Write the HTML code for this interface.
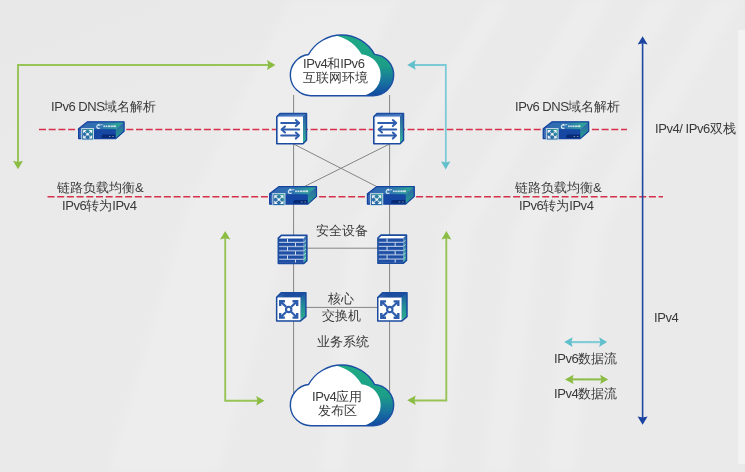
<!DOCTYPE html>
<html><head><meta charset="utf-8">
<style>
html,body{margin:0;padding:0;}
body{width:745px;height:472px;overflow:hidden;position:relative;background:#eaeaea;font-family:"Liberation Sans",sans-serif;color:#3a3a3a;}
.t{position:absolute;white-space:nowrap;will-change:transform;font-size:13px;line-height:16px;}
.l{letter-spacing:-0.45px;}
.k{display:inline-block;width:1em;text-align:center;}
</style></head><body>
<svg width="745" height="472" viewBox="0 0 745 472" style="position:absolute;left:0;top:0">
<defs>
<linearGradient id="gCloud" x1="0" y1="35" x2="0" y2="96" gradientUnits="userSpaceOnUse">
<stop offset="0" stop-color="#1fab84"/><stop offset="0.5" stop-color="#1c9e87"/><stop offset="0.78" stop-color="#1870a0"/><stop offset="1" stop-color="#0f47a0"/></linearGradient>
<clipPath id="clipCloud"><path d="M311.00,95.70 A20.7,20.7 0 0 1 308.62,54.44 A37.7,37.7 0 0 1 374.54,54.36 A20.7,20.7 0 0 1 373.00,95.70 Z"/></clipPath>
<linearGradient id="gTopSw" x1="0" y1="0" x2="1" y2="0"><stop offset="0" stop-color="#3c6cb8"/><stop offset="1" stop-color="#4f80c4"/></linearGradient>
<linearGradient id="gSide" x1="0" y1="0" x2="0" y2="1"><stop offset="0" stop-color="#2d5ca8"/><stop offset="1" stop-color="#36b596"/></linearGradient>
<linearGradient id="gSide2" x1="0" y1="0" x2="0" y2="1"><stop offset="0" stop-color="#3f6fb8"/><stop offset="1" stop-color="#3cbf98"/></linearGradient>
<linearGradient id="gSide3" x1="0" y1="0" x2="0" y2="1"><stop offset="0" stop-color="#1f55a5"/><stop offset="0.45" stop-color="#238a98"/><stop offset="0.85" stop-color="#2aa88e"/><stop offset="1" stop-color="#7ad3b8"/></linearGradient>
<linearGradient id="gTopCs" x1="0" y1="0" x2="1" y2="0"><stop offset="0" stop-color="#3a6cb8"/><stop offset="0.3" stop-color="#1c4ea0"/><stop offset="1" stop-color="#1c4ea0"/></linearGradient>
<linearGradient id="gBrick" x1="0" y1="0" x2="0" y2="1"><stop offset="0" stop-color="#1c4ba0"/><stop offset="0.6" stop-color="#1f50a5"/><stop offset="1" stop-color="#5c82c2"/></linearGradient>
<linearGradient id="gDevTop" x1="0" y1="0" x2="1" y2="0"><stop offset="0" stop-color="#3366b2"/><stop offset="0.5" stop-color="#2f74b0"/><stop offset="1" stop-color="#2bb08e"/></linearGradient>
<linearGradient id="gDevSide" x1="0" y1="0" x2="0" y2="1"><stop offset="0" stop-color="#2b62ab"/><stop offset="1" stop-color="#27a08c"/></linearGradient>
<linearGradient id="gDevIcon" x1="0" y1="1" x2="1" y2="0"><stop offset="0" stop-color="#2458a6"/><stop offset="0.55" stop-color="#2f78a4"/><stop offset="1" stop-color="#2fa890"/></linearGradient>
<linearGradient id="gBg" x1="0" y1="0" x2="0.6" y2="1"><stop offset="0" stop-color="#e6e6e6" stop-opacity="0.6"/><stop offset="0.4" stop-color="#e9e9e9" stop-opacity="0"/></linearGradient>
<linearGradient id="gBand1" x1="0" y1="0" x2="0" y2="1"><stop offset="0" stop-color="#fff" stop-opacity="0.2"/><stop offset="0.6" stop-color="#fff" stop-opacity="0.08"/><stop offset="1" stop-color="#fff" stop-opacity="0.04"/></linearGradient>
<filter id="fBlur" x="-20%" y="-20%" width="140%" height="140%"><feGaussianBlur stdDeviation="5"/></filter>
</defs>
<rect width="745" height="472" fill="#eaeaea"/>
<rect width="745" height="472" fill="url(#gBg)"/>
<g filter="url(#fBlur)">
<polygon points="290,0 400,0 300,200 218,472 108,472 190,200" fill="#fff" opacity="0.14"/>
<polygon points="488,0 510,0 372,230 343,472 321,472 350,230" fill="#fff" opacity="0.16"/>
<polygon points="580,0 610,0 472,230 443,472 413,472 442,230" fill="#fff" opacity="0.16"/>
<polygon points="650,0 678,0 540,230 511,472 483,472 512,230" fill="#fff" opacity="0.14"/>
<polygon points="712,0 742,0 604,230 575,472 545,472 574,230" fill="#fff" opacity="0.14"/>
</g>
<rect x="738" y="30" width="7" height="434" fill="#f3f3f3"/>
<!-- gray lines -->
<g stroke="#858585" stroke-width="1" fill="none">
<path d="M293.6,95 V400"/><path d="M389.6,95 V400"/>
<path d="M293.6,144 L376.5,186.5"/><path d="M389.6,144 L304.5,186.5"/>
<path d="M307,248.2 H378"/><path d="M306,307.4 H378"/>
</g>
<!-- red dashed -->
<g stroke="#d6304a" stroke-width="1.5" fill="none" stroke-dasharray="7 2.7">
<path d="M39,129.4 H627"/>
<path d="M47.5,196.8 H663"/>
</g>
<!-- blue double arrow -->
<path d="M642.6,43 V418" stroke="#1d47a2" stroke-width="1.6"/>
<polygon points="642.60,36.20 647.60,44.50 642.60,43.30 637.60,44.50" fill="#1b44a0"/>
<polygon points="642.60,424.70 637.60,416.40 642.60,417.60 647.60,416.40" fill="#1b44a0"/>
<!-- green L arrows -->
<g fill="none" stroke="#98c357" stroke-width="1.9">
<path d="M18,163 V65 H269"/>
<path d="M225.2,238 V400.7 H258"/>
<path d="M446.3,238 V400.5 H414"/>
</g>
<path d="M445.8,163 V65 H414" fill="none" stroke="#7ccad5" stroke-width="1.8"/>
<polygon points="18.00,169.30 13.00,160.80 18.00,162.10 23.00,160.80" fill="#8bbd45"/>
<polygon points="275.50,65.00 267.00,70.00 268.30,65.00 267.00,60.00" fill="#8bbd45"/>
<polygon points="225.20,231.10 230.30,239.60 225.20,238.30 220.10,239.60" fill="#8bbd45"/>
<polygon points="264.50,400.80 256.20,405.50 257.50,400.80 256.20,396.10" fill="#8bbd45"/>
<polygon points="446.40,231.10 451.30,239.60 446.40,238.30 441.50,239.60" fill="#8bbd45"/>
<polygon points="407.20,400.20 415.70,395.50 414.40,400.20 415.70,404.90" fill="#8bbd45"/>
<polygon points="407.20,64.90 415.70,60.00 414.40,64.90 415.70,69.80" fill="#62bfcc"/>
<polygon points="445.70,169.40 441.00,161.20 445.70,162.50 450.40,161.20" fill="#62bfcc"/>
<!-- legend -->
<path d="M570,342.1 H601" stroke="#84cdd8" stroke-width="2.2"/>
<polygon points="564.20,342.10 572.60,337.30 571.30,342.10 572.60,346.90" fill="#62bfcc"/>
<polygon points="607.10,342.10 599.10,346.90 600.40,342.10 599.10,337.30" fill="#62bfcc"/>
<path d="M571,379.4 H602" stroke="#8bbd45" stroke-width="2"/>
<polygon points="564.90,379.40 573.60,374.70 572.30,379.40 573.60,384.10" fill="#8bbd45"/>
<polygon points="608.20,379.40 600.10,384.10 601.40,379.40 600.10,374.70" fill="#8bbd45"/>
<!-- clouds -->
<g transform="translate(0,0)">
<path d="M311.00,95.70 A20.7,20.7 0 0 1 308.62,54.44 A37.7,37.7 0 0 1 374.54,54.36 A20.7,20.7 0 0 1 373.00,95.70 Z" fill="url(#gCloud)"/>
<g clip-path="url(#clipCloud)"><path d="M311.00,95.70 A20.7,20.7 0 0 1 308.62,54.44 A37.7,37.7 0 0 1 374.54,54.36 A20.7,20.7 0 0 1 373.00,95.70 Z" transform="translate(-13,0)" fill="#fff"/></g>
<path d="M311.00,95.70 A20.7,20.7 0 0 1 308.62,54.44 A37.7,37.7 0 0 1 374.54,54.36 A20.7,20.7 0 0 1 373.00,95.70 Z" fill="none" stroke="#1c4fa3" stroke-width="1.4"/>
</g>
<g transform="translate(0,330)">
<path d="M311.00,95.70 A20.7,20.7 0 0 1 308.62,54.44 A37.7,37.7 0 0 1 374.54,54.36 A20.7,20.7 0 0 1 373.00,95.70 Z" fill="url(#gCloud)"/>
<g clip-path="url(#clipCloud)"><path d="M311.00,95.70 A20.7,20.7 0 0 1 308.62,54.44 A37.7,37.7 0 0 1 374.54,54.36 A20.7,20.7 0 0 1 373.00,95.70 Z" transform="translate(-13,0)" fill="#fff"/></g>
<path d="M311.00,95.70 A20.7,20.7 0 0 1 308.62,54.44 A37.7,37.7 0 0 1 374.54,54.36 A20.7,20.7 0 0 1 373.00,95.70 Z" fill="none" stroke="#1c4fa3" stroke-width="1.4"/>
</g>
<!-- icons -->
<g transform="translate(276,112.7)">
<polygon points="0.75,4 4,0.75 30.5,0.75 30.5,27.5 27,31 0.75,31" fill="#2d5ca8"/>
<polygon points="0.75,4 4,0.75 30.5,0.75 27,4" fill="url(#gTopSw)"/>
<polygon points="27,4 30.5,0.75 30.5,27.5 27,31" fill="url(#gSide)"/>
<rect x="0.75" y="4" width="26.25" height="27" fill="#fff"/>
<rect x="1.3" y="4.2" width="0.9" height="26.5" fill="#b9c9e6"/>
<rect x="1.3" y="3.6" width="25.5" height="0.8" fill="#9fb6de"/>
<polygon points="0.75,4 4,0.75 30.5,0.75 30.5,27.5 27,31 0.75,31" fill="none" stroke="#1a4b9e" stroke-width="1.5" stroke-linejoin="round"/>
<g stroke="#2d5dac" stroke-width="2.0" fill="none" stroke-linecap="round" stroke-linejoin="round">
<path d="M5.2,10.4 H22.4"/><path d="M19.8,7.4 L23.2,10.4 L19.8,13.4"/>
<path d="M6.4,16.8 H23.2"/><path d="M9,13.8 L5.6,16.8 L9,19.8"/>
<path d="M5.2,22.9 H22.2"/><path d="M19.8,19.9 L23,22.9 L19.8,25.9"/>
</g></g>
<g transform="translate(373,112.7)">
<polygon points="0.75,4 4,0.75 30.5,0.75 30.5,27.5 27,31 0.75,31" fill="#2d5ca8"/>
<polygon points="0.75,4 4,0.75 30.5,0.75 27,4" fill="url(#gTopSw)"/>
<polygon points="27,4 30.5,0.75 30.5,27.5 27,31" fill="url(#gSide)"/>
<rect x="0.75" y="4" width="26.25" height="27" fill="#fff"/>
<rect x="1.3" y="4.2" width="0.9" height="26.5" fill="#b9c9e6"/>
<rect x="1.3" y="3.6" width="25.5" height="0.8" fill="#9fb6de"/>
<polygon points="0.75,4 4,0.75 30.5,0.75 30.5,27.5 27,31 0.75,31" fill="none" stroke="#1a4b9e" stroke-width="1.5" stroke-linejoin="round"/>
<g stroke="#2d5dac" stroke-width="2.0" fill="none" stroke-linecap="round" stroke-linejoin="round">
<path d="M5.2,10.4 H22.4"/><path d="M19.8,7.4 L23.2,10.4 L19.8,13.4"/>
<path d="M6.4,16.8 H23.2"/><path d="M9,13.8 L5.6,16.8 L9,19.8"/>
<path d="M5.2,22.9 H22.2"/><path d="M19.8,19.9 L23,22.9 L19.8,25.9"/>
</g></g>
<g transform="translate(78,121.2) scale(1.0,1.0)">
<polygon points="0.6,7.5 9.5,0.6 46.1,0.6 46.1,10 37.8,17.4 0.6,17.4" fill="#1547a3"/>
<polygon points="0.6,7.5 9.5,0.6 46.1,0.6 37.5,8.2 0.6,8.2" fill="url(#gDevTop)"/>
<polygon points="37.5,8.2 46.1,0.6 46.1,10 37.8,17.4" fill="url(#gDevSide)"/>
<rect x="0.6" y="8.2" width="36.9" height="9.2" fill="#1547a3"/>
<rect x="1.3" y="8.6" width="1.8" height="8.4" fill="#3e6cb8"/>
<polygon points="24.3,13.4 37.3,13.4 37.3,17.2 23.2,17.2" fill="#072a75"/>
<rect x="31" y="14.9" width="1.5" height="0.9" fill="#8797b8"/><rect x="34.3" y="14.9" width="1.5" height="0.9" fill="#8797b8"/>
<path d="M37.6,8.2 L45.6,1.2" stroke="#6fa8c8" stroke-width="0.5" opacity="0.7"/>
<polygon points="0.6,7.5 9.5,0.6 46.1,0.6 46.1,10 37.8,17.4 0.6,17.4" fill="none" stroke="#1443a0" stroke-width="1.2" stroke-linejoin="round"/>
<rect x="3.7" y="7.4" width="11.8" height="11.4" fill="url(#gDevIcon)" stroke="#d4e6ea" stroke-width="0.9"/>
<g fill="#f2f7fa">
<polygon points="5.1,8.8 8.6,8.8 5.1,12.3"/><polygon points="14.1,8.8 10.6,8.8 14.1,12.3"/>
<polygon points="5.1,17.4 8.6,17.4 5.1,13.9"/><polygon points="14.1,17.4 10.6,17.4 14.1,13.9"/>
<circle cx="9.6" cy="13.1" r="1.3"/>
</g>
<g stroke="#f2f7fa" stroke-width="1" opacity="0.85">
<path d="M6,9.7 L8.6,12.2"/><path d="M13.2,9.7 L10.6,12.2"/><path d="M6,16.5 L8.6,14"/><path d="M13.2,16.5 L10.6,14"/>
</g>
<path d="M21.6,3 C19.4,3.4 18.2,5 19,6.5 C19.6,7.3 21,7.2 22,6.8" stroke="#e4eef8" stroke-width="1.1" fill="none"/>
<path d="M20.2,4.5 C21.8,3.8 23.6,3.4 24.6,3.5" stroke="#e4eef8" stroke-width="0.8" fill="none"/>
<g fill="#e2ecf4" opacity="0.9">
<rect x="25.4" y="4.3" width="1.6" height="1.6"/><rect x="27.6" y="4.3" width="1.6" height="1.6"/>
<rect x="29.8" y="4.3" width="2.2" height="1.6"/><rect x="32.5" y="4.3" width="2.4" height="1.6"/><rect x="35.3" y="4.1" width="2.6" height="1.8"/>
</g>
</g>
<g transform="translate(542.6,121.2) scale(1.0,1.0)">
<polygon points="0.6,7.5 9.5,0.6 46.1,0.6 46.1,10 37.8,17.4 0.6,17.4" fill="#1547a3"/>
<polygon points="0.6,7.5 9.5,0.6 46.1,0.6 37.5,8.2 0.6,8.2" fill="url(#gDevTop)"/>
<polygon points="37.5,8.2 46.1,0.6 46.1,10 37.8,17.4" fill="url(#gDevSide)"/>
<rect x="0.6" y="8.2" width="36.9" height="9.2" fill="#1547a3"/>
<rect x="1.3" y="8.6" width="1.8" height="8.4" fill="#3e6cb8"/>
<polygon points="24.3,13.4 37.3,13.4 37.3,17.2 23.2,17.2" fill="#072a75"/>
<rect x="31" y="14.9" width="1.5" height="0.9" fill="#8797b8"/><rect x="34.3" y="14.9" width="1.5" height="0.9" fill="#8797b8"/>
<path d="M37.6,8.2 L45.6,1.2" stroke="#6fa8c8" stroke-width="0.5" opacity="0.7"/>
<polygon points="0.6,7.5 9.5,0.6 46.1,0.6 46.1,10 37.8,17.4 0.6,17.4" fill="none" stroke="#1443a0" stroke-width="1.2" stroke-linejoin="round"/>
<rect x="3.7" y="7.4" width="11.8" height="11.4" fill="url(#gDevIcon)" stroke="#d4e6ea" stroke-width="0.9"/>
<g fill="#f2f7fa">
<polygon points="5.1,8.8 8.6,8.8 5.1,12.3"/><polygon points="14.1,8.8 10.6,8.8 14.1,12.3"/>
<polygon points="5.1,17.4 8.6,17.4 5.1,13.9"/><polygon points="14.1,17.4 10.6,17.4 14.1,13.9"/>
<circle cx="9.6" cy="13.1" r="1.3"/>
</g>
<g stroke="#f2f7fa" stroke-width="1" opacity="0.85">
<path d="M6,9.7 L8.6,12.2"/><path d="M13.2,9.7 L10.6,12.2"/><path d="M6,16.5 L8.6,14"/><path d="M13.2,16.5 L10.6,14"/>
</g>
<path d="M21.6,3 C19.4,3.4 18.2,5 19,6.5 C19.6,7.3 21,7.2 22,6.8" stroke="#e4eef8" stroke-width="1.1" fill="none"/>
<path d="M20.2,4.5 C21.8,3.8 23.6,3.4 24.6,3.5" stroke="#e4eef8" stroke-width="0.8" fill="none"/>
<g fill="#e2ecf4" opacity="0.9">
<rect x="25.4" y="4.3" width="1.6" height="1.6"/><rect x="27.6" y="4.3" width="1.6" height="1.6"/>
<rect x="29.8" y="4.3" width="2.2" height="1.6"/><rect x="32.5" y="4.3" width="2.4" height="1.6"/><rect x="35.3" y="4.1" width="2.6" height="1.8"/>
</g>
</g>
<g transform="translate(269,186) scale(1.03,1.04)">
<polygon points="0.6,7.5 9.5,0.6 46.1,0.6 46.1,10 37.8,17.4 0.6,17.4" fill="#1547a3"/>
<polygon points="0.6,7.5 9.5,0.6 46.1,0.6 37.5,8.2 0.6,8.2" fill="url(#gDevTop)"/>
<polygon points="37.5,8.2 46.1,0.6 46.1,10 37.8,17.4" fill="url(#gDevSide)"/>
<rect x="0.6" y="8.2" width="36.9" height="9.2" fill="#1547a3"/>
<rect x="1.3" y="8.6" width="1.8" height="8.4" fill="#3e6cb8"/>
<polygon points="24.3,13.4 37.3,13.4 37.3,17.2 23.2,17.2" fill="#072a75"/>
<rect x="31" y="14.9" width="1.5" height="0.9" fill="#8797b8"/><rect x="34.3" y="14.9" width="1.5" height="0.9" fill="#8797b8"/>
<path d="M37.6,8.2 L45.6,1.2" stroke="#6fa8c8" stroke-width="0.5" opacity="0.7"/>
<polygon points="0.6,7.5 9.5,0.6 46.1,0.6 46.1,10 37.8,17.4 0.6,17.4" fill="none" stroke="#1443a0" stroke-width="1.2" stroke-linejoin="round"/>
<rect x="3.7" y="7.4" width="11.8" height="11.4" fill="url(#gDevIcon)" stroke="#d4e6ea" stroke-width="0.9"/>
<g fill="#f2f7fa">
<polygon points="5.1,8.8 8.6,8.8 5.1,12.3"/><polygon points="14.1,8.8 10.6,8.8 14.1,12.3"/>
<polygon points="5.1,17.4 8.6,17.4 5.1,13.9"/><polygon points="14.1,17.4 10.6,17.4 14.1,13.9"/>
<circle cx="9.6" cy="13.1" r="1.3"/>
</g>
<g stroke="#f2f7fa" stroke-width="1" opacity="0.85">
<path d="M6,9.7 L8.6,12.2"/><path d="M13.2,9.7 L10.6,12.2"/><path d="M6,16.5 L8.6,14"/><path d="M13.2,16.5 L10.6,14"/>
</g>
<path d="M21.6,3 C19.4,3.4 18.2,5 19,6.5 C19.6,7.3 21,7.2 22,6.8" stroke="#e4eef8" stroke-width="1.1" fill="none"/>
<path d="M20.2,4.5 C21.8,3.8 23.6,3.4 24.6,3.5" stroke="#e4eef8" stroke-width="0.8" fill="none"/>
<g fill="#e2ecf4" opacity="0.9">
<rect x="25.4" y="4.3" width="1.6" height="1.6"/><rect x="27.6" y="4.3" width="1.6" height="1.6"/>
<rect x="29.8" y="4.3" width="2.2" height="1.6"/><rect x="32.5" y="4.3" width="2.4" height="1.6"/><rect x="35.3" y="4.1" width="2.6" height="1.8"/>
</g>
</g>
<g transform="translate(366.8,186) scale(1.03,1.04)">
<polygon points="0.6,7.5 9.5,0.6 46.1,0.6 46.1,10 37.8,17.4 0.6,17.4" fill="#1547a3"/>
<polygon points="0.6,7.5 9.5,0.6 46.1,0.6 37.5,8.2 0.6,8.2" fill="url(#gDevTop)"/>
<polygon points="37.5,8.2 46.1,0.6 46.1,10 37.8,17.4" fill="url(#gDevSide)"/>
<rect x="0.6" y="8.2" width="36.9" height="9.2" fill="#1547a3"/>
<rect x="1.3" y="8.6" width="1.8" height="8.4" fill="#3e6cb8"/>
<polygon points="24.3,13.4 37.3,13.4 37.3,17.2 23.2,17.2" fill="#072a75"/>
<rect x="31" y="14.9" width="1.5" height="0.9" fill="#8797b8"/><rect x="34.3" y="14.9" width="1.5" height="0.9" fill="#8797b8"/>
<path d="M37.6,8.2 L45.6,1.2" stroke="#6fa8c8" stroke-width="0.5" opacity="0.7"/>
<polygon points="0.6,7.5 9.5,0.6 46.1,0.6 46.1,10 37.8,17.4 0.6,17.4" fill="none" stroke="#1443a0" stroke-width="1.2" stroke-linejoin="round"/>
<rect x="3.7" y="7.4" width="11.8" height="11.4" fill="url(#gDevIcon)" stroke="#d4e6ea" stroke-width="0.9"/>
<g fill="#f2f7fa">
<polygon points="5.1,8.8 8.6,8.8 5.1,12.3"/><polygon points="14.1,8.8 10.6,8.8 14.1,12.3"/>
<polygon points="5.1,17.4 8.6,17.4 5.1,13.9"/><polygon points="14.1,17.4 10.6,17.4 14.1,13.9"/>
<circle cx="9.6" cy="13.1" r="1.3"/>
</g>
<g stroke="#f2f7fa" stroke-width="1" opacity="0.85">
<path d="M6,9.7 L8.6,12.2"/><path d="M13.2,9.7 L10.6,12.2"/><path d="M6,16.5 L8.6,14"/><path d="M13.2,16.5 L10.6,14"/>
</g>
<path d="M21.6,3 C19.4,3.4 18.2,5 19,6.5 C19.6,7.3 21,7.2 22,6.8" stroke="#e4eef8" stroke-width="1.1" fill="none"/>
<path d="M20.2,4.5 C21.8,3.8 23.6,3.4 24.6,3.5" stroke="#e4eef8" stroke-width="0.8" fill="none"/>
<g fill="#e2ecf4" opacity="0.9">
<rect x="25.4" y="4.3" width="1.6" height="1.6"/><rect x="27.6" y="4.3" width="1.6" height="1.6"/>
<rect x="29.8" y="4.3" width="2.2" height="1.6"/><rect x="32.5" y="4.3" width="2.4" height="1.6"/><rect x="35.3" y="4.1" width="2.6" height="1.8"/>
</g>
</g>
<g transform="translate(277.6,234.6)">
<polygon points="0.75,3.6 3.8,0.75 29.25,0.75 29.25,26 26.2,28.8 0.75,28.8" fill="#3a66b0"/>
<polygon points="0.75,3.6 3.8,0.75 29.25,0.75 26.2,3.6" fill="#fff"/>
<polygon points="26.2,3.6 29.25,0.75 29.25,26 26.2,28.8" fill="url(#gSide2)"/>
<rect x="0.75" y="3.6" width="25.45" height="25.2" fill="#c9d6ee"/>
<rect x="1" y="4.15" width="25" height="3.45" fill="url(#gBrick)"/><rect x="9.4" y="4.00" width="0.9" height="3.70" fill="#e6eefa"/><rect x="1" y="8.35" width="25" height="3.45" fill="url(#gBrick)"/><rect x="17.5" y="8.20" width="0.9" height="3.70" fill="#e6eefa"/><rect x="1" y="12.55" width="25" height="3.45" fill="url(#gBrick)"/><rect x="9.4" y="12.40" width="0.9" height="3.70" fill="#e6eefa"/><rect x="1" y="16.75" width="25" height="3.45" fill="url(#gBrick)"/><rect x="17.5" y="16.60" width="0.9" height="3.70" fill="#e6eefa"/><rect x="1" y="20.95" width="25" height="3.45" fill="url(#gBrick)"/><rect x="9.4" y="20.80" width="0.9" height="3.70" fill="#e6eefa"/><rect x="1" y="25.15" width="25" height="3.45" fill="url(#gBrick)"/><rect x="17.5" y="25.00" width="0.9" height="3.70" fill="#e6eefa"/>
<path d="M26.4,7.60 L28.8,5.60" stroke="#dfeef0" stroke-width="0.7"/><path d="M26.4,11.80 L28.8,9.80" stroke="#dfeef0" stroke-width="0.7"/><path d="M26.4,16.00 L28.8,14.00" stroke="#dfeef0" stroke-width="0.7"/><path d="M26.4,20.20 L28.8,18.20" stroke="#dfeef0" stroke-width="0.7"/><path d="M26.4,24.40 L28.8,22.40" stroke="#dfeef0" stroke-width="0.7"/>
<polygon points="0.75,3.6 3.8,0.75 29.25,0.75 29.25,26 26.2,28.8 0.75,28.8" fill="none" stroke="#1a4b9e" stroke-width="1.6" stroke-linejoin="round"/>
</g>
<g transform="translate(377.2,234.4)">
<polygon points="0.75,3.6 3.8,0.75 29.25,0.75 29.25,26 26.2,28.8 0.75,28.8" fill="#3a66b0"/>
<polygon points="0.75,3.6 3.8,0.75 29.25,0.75 26.2,3.6" fill="#fff"/>
<polygon points="26.2,3.6 29.25,0.75 29.25,26 26.2,28.8" fill="url(#gSide2)"/>
<rect x="0.75" y="3.6" width="25.45" height="25.2" fill="#c9d6ee"/>
<rect x="1" y="4.15" width="25" height="3.45" fill="url(#gBrick)"/><rect x="9.4" y="4.00" width="0.9" height="3.70" fill="#e6eefa"/><rect x="1" y="8.35" width="25" height="3.45" fill="url(#gBrick)"/><rect x="17.5" y="8.20" width="0.9" height="3.70" fill="#e6eefa"/><rect x="1" y="12.55" width="25" height="3.45" fill="url(#gBrick)"/><rect x="9.4" y="12.40" width="0.9" height="3.70" fill="#e6eefa"/><rect x="1" y="16.75" width="25" height="3.45" fill="url(#gBrick)"/><rect x="17.5" y="16.60" width="0.9" height="3.70" fill="#e6eefa"/><rect x="1" y="20.95" width="25" height="3.45" fill="url(#gBrick)"/><rect x="9.4" y="20.80" width="0.9" height="3.70" fill="#e6eefa"/><rect x="1" y="25.15" width="25" height="3.45" fill="url(#gBrick)"/><rect x="17.5" y="25.00" width="0.9" height="3.70" fill="#e6eefa"/>
<path d="M26.4,7.60 L28.8,5.60" stroke="#dfeef0" stroke-width="0.7"/><path d="M26.4,11.80 L28.8,9.80" stroke="#dfeef0" stroke-width="0.7"/><path d="M26.4,16.00 L28.8,14.00" stroke="#dfeef0" stroke-width="0.7"/><path d="M26.4,20.20 L28.8,18.20" stroke="#dfeef0" stroke-width="0.7"/><path d="M26.4,24.40 L28.8,22.40" stroke="#dfeef0" stroke-width="0.7"/>
<polygon points="0.75,3.6 3.8,0.75 29.25,0.75 29.25,26 26.2,28.8 0.75,28.8" fill="none" stroke="#1a4b9e" stroke-width="1.6" stroke-linejoin="round"/>
</g>
<g transform="translate(275.9,291.9)">
<polygon points="0.75,5.5 5.5,0.75 30,0.75 30,24.5 24.6,29 0.75,29" fill="#1f52a3"/>
<polygon points="0.75,5.5 5.5,0.75 30,0.75 24.6,5.5" fill="url(#gTopCs)"/>
<polygon points="24.6,5.5 30,0.75 30,24.5 24.6,29" fill="url(#gSide3)"/>
<rect x="0.75" y="5.5" width="23.85" height="23.5" fill="#fff"/>
<polygon points="0.75,5.5 5.5,0.75 30,0.75 30,24.5 24.6,29 0.75,29" fill="none" stroke="#1a4b9e" stroke-width="1.5" stroke-linejoin="round"/>
<g stroke="#2d5dac" fill="none" stroke-linecap="butt" stroke-linejoin="miter">
<circle cx="12.8" cy="17.5" r="2.7" stroke-width="2.1"/>
<path d="M10.20,14.90 L5.20,10.20" stroke-width="2.2"/><path d="M4.30,14.00 L4.30,9.30 L9.00,9.30" stroke-width="2.4"/><polygon points="4.40,9.40 8.00,9.40 4.40,13.00" fill="#2d5dac" stroke="none"/><path d="M15.40,14.90 L20.40,10.20" stroke-width="2.2"/><path d="M21.30,14.00 L21.30,9.30 L16.60,9.30" stroke-width="2.4"/><polygon points="21.20,9.40 17.60,9.40 21.20,13.00" fill="#2d5dac" stroke="none"/><path d="M10.20,20.10 L5.20,24.80" stroke-width="2.2"/><path d="M4.30,21.00 L4.30,25.70 L9.00,25.70" stroke-width="2.4"/><polygon points="4.40,25.60 8.00,25.60 4.40,22.00" fill="#2d5dac" stroke="none"/><path d="M15.40,20.10 L20.40,24.80" stroke-width="2.2"/><path d="M21.30,21.00 L21.30,25.70 L16.60,25.70" stroke-width="2.4"/><polygon points="21.20,25.60 17.60,25.60 21.20,22.00" fill="#2d5dac" stroke="none"/>
</g></g>
<g transform="translate(377,292.1)">
<polygon points="0.75,5.5 5.5,0.75 30,0.75 30,24.5 24.6,29 0.75,29" fill="#1f52a3"/>
<polygon points="0.75,5.5 5.5,0.75 30,0.75 24.6,5.5" fill="url(#gTopCs)"/>
<polygon points="24.6,5.5 30,0.75 30,24.5 24.6,29" fill="url(#gSide3)"/>
<rect x="0.75" y="5.5" width="23.85" height="23.5" fill="#fff"/>
<polygon points="0.75,5.5 5.5,0.75 30,0.75 30,24.5 24.6,29 0.75,29" fill="none" stroke="#1a4b9e" stroke-width="1.5" stroke-linejoin="round"/>
<g stroke="#2d5dac" fill="none" stroke-linecap="butt" stroke-linejoin="miter">
<circle cx="12.8" cy="17.5" r="2.7" stroke-width="2.1"/>
<path d="M10.20,14.90 L5.20,10.20" stroke-width="2.2"/><path d="M4.30,14.00 L4.30,9.30 L9.00,9.30" stroke-width="2.4"/><polygon points="4.40,9.40 8.00,9.40 4.40,13.00" fill="#2d5dac" stroke="none"/><path d="M15.40,14.90 L20.40,10.20" stroke-width="2.2"/><path d="M21.30,14.00 L21.30,9.30 L16.60,9.30" stroke-width="2.4"/><polygon points="21.20,9.40 17.60,9.40 21.20,13.00" fill="#2d5dac" stroke="none"/><path d="M10.20,20.10 L5.20,24.80" stroke-width="2.2"/><path d="M4.30,21.00 L4.30,25.70 L9.00,25.70" stroke-width="2.4"/><polygon points="4.40,25.60 8.00,25.60 4.40,22.00" fill="#2d5dac" stroke="none"/><path d="M15.40,20.10 L20.40,24.80" stroke-width="2.2"/><path d="M21.30,21.00 L21.30,25.70 L16.60,25.70" stroke-width="2.4"/><polygon points="21.20,25.60 17.60,25.60 21.20,22.00" fill="#2d5dac" stroke="none"/>
</g></g>
</svg>
<div class="t" style="left:51px;top:99px;"><span class="l">IPv6 DNS</span><span class="k">域</span><span class="k">名</span><span class="k">解</span><span class="k">析</span></div>
<div class="t" style="left:514.5px;top:99px;"><span class="l">IPv6 DNS</span><span class="k">域</span><span class="k">名</span><span class="k">解</span><span class="k">析</span></div>
<div class="t" style="left:57px;top:180px;"><span class="k">链</span><span class="k">路</span><span class="k">负</span><span class="k">载</span><span class="k">均</span><span class="k">衡</span>&amp;</div>
<div class="t" style="left:62px;top:198px;"><span class="l">IPv6</span><span class="k">转</span><span class="k">为</span><span class="l">IPv4</span></div>
<div class="t" style="left:515px;top:180px;"><span class="k">链</span><span class="k">路</span><span class="k">负</span><span class="k">载</span><span class="k">均</span><span class="k">衡</span>&amp;</div>
<div class="t" style="left:519px;top:198px;"><span class="l">IPv6</span><span class="k">转</span><span class="k">为</span><span class="l">IPv4</span></div>
<div class="t" style="left:303px;top:56px;"><span class="l">IPv4</span><span class="k">和</span><span class="l">IPv6</span></div>
<div class="t" style="left:303px;top:70px;"><span class="k">互</span><span class="k">联</span><span class="k">网</span><span class="k">环</span><span class="k">境</span></div>
<div class="t" style="left:312px;top:389px;"><span class="l">IPv4</span><span class="k">应</span><span class="k">用</span></div>
<div class="t" style="left:318px;top:403px;"><span class="k">发</span><span class="k">布</span><span class="k">区</span></div>
<div class="t" style="left:316px;top:223px;"><span class="k">安</span><span class="k">全</span><span class="k">设</span><span class="k">备</span></div>
<div class="t" style="left:328px;top:291px;"><span class="k">核</span><span class="k">心</span></div>
<div class="t" style="left:322px;top:308px;"><span class="k">交</span><span class="k">换</span><span class="k">机</span></div>
<div class="t" style="left:317px;top:334px;"><span class="k">业</span><span class="k">务</span><span class="k">系</span><span class="k">统</span></div>
<div class="t" style="left:654.5px;top:121px;"><span class="l">IPv4/ IPv6</span><span class="k">双</span><span class="k">栈</span></div>
<div class="t" style="left:654px;top:310px;"><span class="l">IPv4</span></div>
<div class="t" style="left:554px;top:351px;"><span class="l">IPv6</span><span class="k">数</span><span class="k">据</span><span class="k">流</span></div>
<div class="t" style="left:554px;top:386px;"><span class="l">IPv4</span><span class="k">数</span><span class="k">据</span><span class="k">流</span></div>
</body></html>
